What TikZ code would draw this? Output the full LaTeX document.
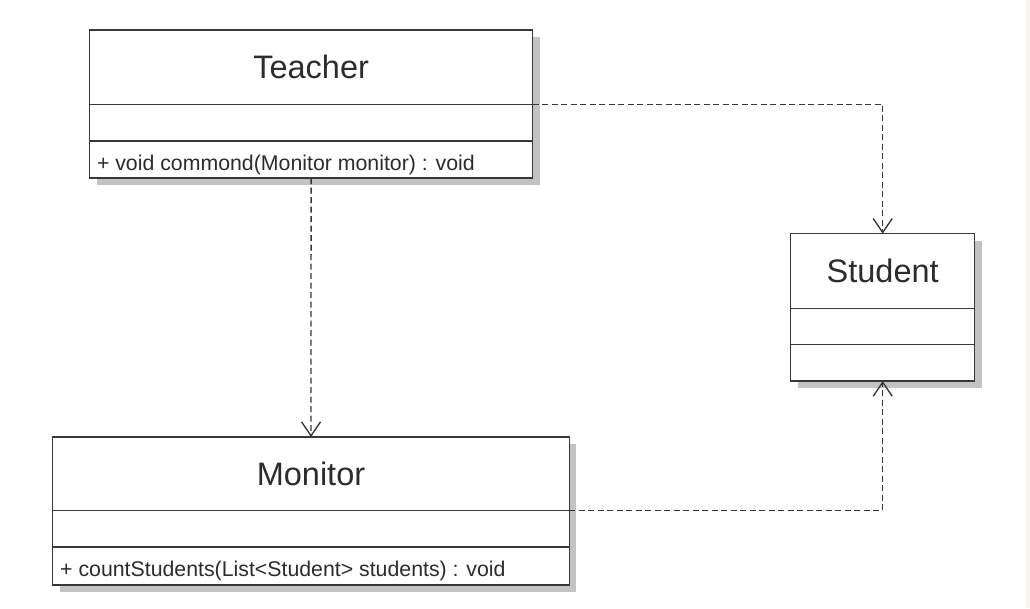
\documentclass[tikz,border=0pt]{standalone}
\usepackage{fontspec}
\setmainfont{Liberation Sans}
\usetikzlibrary{arrows.meta,calc}
\definecolor{linec}{HTML}{383838}
\definecolor{textc}{HTML}{2C2C2C}
\definecolor{shadowc}{HTML}{C3C3C3}
\definecolor{stripc}{HTML}{F6F4EE}
\tikzset{
  box/.style={draw=linec, line width=1.4pt, fill=white, inner sep=0pt, outer sep=0pt, anchor=north west},
  outline/.style={draw=linec, line width=1.4pt, inner sep=0pt, outer sep=0pt, anchor=north west},
  shadowbox/.style={fill=shadowc, draw=none, inner sep=0pt, outer sep=0pt, anchor=north west},
  titletext/.style={text=textc, font=\fontsize{32.5}{39}\selectfont, inner sep=0pt},
  optext/.style={text=textc, font=\fontsize{21.3}{26}\selectfont, inner sep=0pt, anchor=base west},
  dep/.style={draw=linec, line width=1.35pt, dash pattern=on 6pt off 3.5pt, -{Straight Barb[length=14pt,width=19pt]}},
}
\begin{document}
\begin{tikzpicture}[x=1pt,y=-1pt]
\useasboundingbox (0,0) rectangle (1030,608);
\fill[white] (0,0) rectangle (1026,608);
\fill[stripc] (1026,0) rectangle (1030,608);

% Teacher
\node[shadowbox, minimum width=443.2pt, minimum height=148pt] (teacher-shadow) at (96.5,37) {};
\node[box, minimum width=443.2pt, minimum height=74.3pt] (teacher-title) at (89.5,30) {};
\node[box, minimum width=443.2pt, minimum height=36.7pt] (teacher-attr) at (teacher-title.south west) {};
\node[box, minimum width=443.2pt, minimum height=37pt] (teacher-ops) at (teacher-attr.south west) {};
\node[outline, minimum width=443.2pt, minimum height=148pt] (teacher) at (89.5,30) {};
\node[titletext] (teacher-name) at (teacher-title.center) {Teacher};
\node[optext] (teacher-op) at ($(teacher-ops.south west)+(7.3,-8)$) {+ void commond(Monitor monitor) : void};

% Student
\node[shadowbox, minimum width=184pt, minimum height=147.3pt] (student-shadow) at (797.7,240.7) {};
\node[box, minimum width=184pt, minimum height=74.6pt] (student-title) at (790.7,233.7) {};
\node[box, minimum width=184pt, minimum height=36.4pt] (student-attr) at (student-title.south west) {};
\node[box, minimum width=184pt, minimum height=36.3pt] (student-ops) at (student-attr.south west) {};
\node[outline, minimum width=184pt, minimum height=147.3pt] (student) at (790.7,233.7) {};
\node[titletext] (student-name) at (student-title.center) {Student};

% Monitor
\node[shadowbox, minimum width=516.6pt, minimum height=148pt] (monitor-shadow) at (59.7,444) {};
\node[box, minimum width=516.6pt, minimum height=73.3pt] (monitor-title) at (52.7,437) {};
\node[box, minimum width=516.6pt, minimum height=36.7pt] (monitor-attr) at (monitor-title.south west) {};
\node[box, minimum width=516.6pt, minimum height=38pt] (monitor-ops) at (monitor-attr.south west) {};
\node[outline, minimum width=516.6pt, minimum height=148pt] (monitor) at (52.7,437) {};
\node[titletext] (monitor-name) at (monitor-title.center) {Monitor};
\node[optext] (monitor-op) at ($(monitor-ops.south west)+(7.3,-9)$) {+ countStudents(List<Student> students) : void};

% Dependencies
\draw[dep] (teacher-attr.north east) -| (student.north);
\draw[dep] (teacher.south) -- (monitor.north);
\draw[dep] (monitor-attr.north east) -| (student.south);
\end{tikzpicture}
\end{document}
